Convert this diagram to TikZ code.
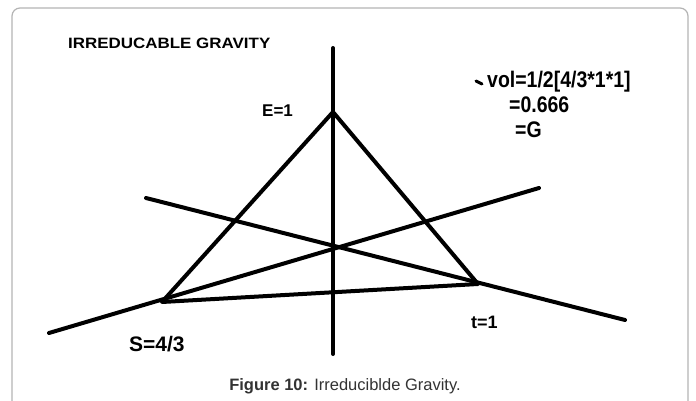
\documentclass[tikz,border=0pt]{standalone}
\usepackage{fontspec}
\setmainfont{Liberation Sans}
\definecolor{framegray}{HTML}{B4B4B4}
\definecolor{captiongray}{HTML}{333333}
\tikzset{
  axisline/.style={line width=4pt, line cap=round, black},
  lbl/.style={inner sep=0pt, font=\bfseries, text=black},
}
\begin{document}
\begin{tikzpicture}[x=1pt, y=-1pt]
\useasboundingbox (0,0) rectangle (696,401);
\clip (0,0) rectangle (696,401);
\fill[white] (0,0) rectangle (696,401);
% frame
\draw[framegray, line width=1.2pt, rounded corners=8pt] (12,8) rectangle (688,430);
% points
\coordinate (top) at (333,48);
\coordinate (bot) at (333,354);
\coordinate (E) at (333,112);
\coordinate (S) at (162,302);
\coordinate (T) at (478,284);
\coordinate (A1) at (49,333);
\coordinate (A2) at (539,188);
\coordinate (D1) at (146,198);
\coordinate (D2) at (625,320);
% lines
\draw[axisline] (top) -- (bot);
\draw[axisline, line join=round] (S) -- (E) -- (T) -- cycle;
\draw[axisline] (A1) -- (A2);
\draw[axisline] (D1) -- (D2);
% texts
\node[lbl, anchor=base west] (title) at (68,49) {\scalebox{1.13}[1]{\fontsize{15}{15}\selectfont IRREDUCABLE GRAVITY}};
\node[lbl, anchor=base west] (elab) at (262,117) {\fontsize{17}{17}\selectfont E=1};
\node[lbl, anchor=base west] (vol) at (487,88) {\scalebox{0.95}[1.1]{\fontsize{20.5}{20}\selectfont vol=1/2[4/3*1*1]}};
\node[lbl, anchor=base west] (v2) at (509,113) {\scalebox{0.95}[1.1]{\fontsize{20.5}{20}\selectfont =0.666}};
\node[lbl, anchor=base west] (v3) at (515,138) {\scalebox{0.95}[1.1]{\fontsize{20.5}{20}\selectfont =G}};
\coordinate (m1) at (476,81);
\coordinate (m2) at (482,84);
\draw[line width=3pt, line cap=round] (m1) -- (m2);
\node[lbl, anchor=base west] (slab) at (129,351) {\fontsize{21}{21}\selectfont S=4/3};
\node[lbl, anchor=base west] (tlab) at (471,328) {\fontsize{18}{18}\selectfont t=1};
\node[inner sep=0pt, anchor=base, text=captiongray] (cap) at (345,390) {\fontsize{16.5}{16.5}\selectfont\textbf{Figure 10:} Irreduciblde Gravity.};
\end{tikzpicture}
\end{document}
